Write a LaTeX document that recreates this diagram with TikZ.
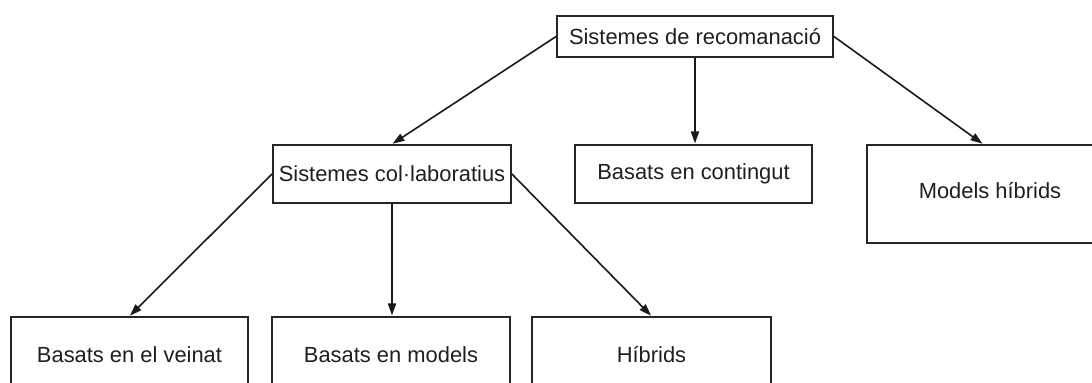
\documentclass[tikz,border=0pt]{standalone}
\usepackage{fontspec}
\setmainfont{Liberation Sans}
\usetikzlibrary{arrows.meta,calc}
\begin{document}
\begin{tikzpicture}[x=0.5pt,y=-0.5pt,
  box/.style={draw=black!85,line width=0.9pt,fill=white,inner sep=0pt,
    font=\fontsize{10.95}{13}\selectfont,text=black!88},
  link/.style={draw=black!90,line width=0.8pt,
    -{Triangle[length=6pt,width=4pt]},shorten >=0.3pt}]
  \useasboundingbox (0,0) rectangle (1092,383);
  \clip (0,0) rectangle (1092,383);

  % root
  \node[box,minimum width=138pt,minimum height=20.5pt] (root) at (695,36.5) {Sistemes de recomanació};

  % second level
  \node[box,minimum width=119pt,minimum height=29pt] (col) at (392,174) {Sistemes col·laboratius};
  \node[box,minimum width=118.5pt,minimum height=29pt] (cont) at (693.5,174) {Basats en contingut};
  \node[box,minimum width=123pt,minimum height=49pt] (hyb) at (990,194) {\raisebox{3.5pt}{Models híbrids}};

  % third level
  \node[box,minimum width=118.5pt,minimum height=38pt] (vei) at (129.5,355) {Basats en el veinat};
  \node[box,minimum width=119pt,minimum height=38pt] (mod) at (391,355) {Basats en models};
  \node[box,minimum width=119.5pt,minimum height=38pt] (hib) at (651.5,355) {Híbrids};

  \coordinate (hybin) at ($(hyb.north)+(-7,0)$);

  % connectors
  \draw[link] (root.west) -- (col.north);
  \draw[link] (root.south) -- (root.south |- cont.north);
  \draw[link] (root.east) -- (hybin);
  \draw[link] (col.west) -- (vei.north);
  \draw[link] (col.south) -- (col.south |- mod.north);
  \draw[link] (col.east) -- (hib.north);
\end{tikzpicture}
\end{document}
